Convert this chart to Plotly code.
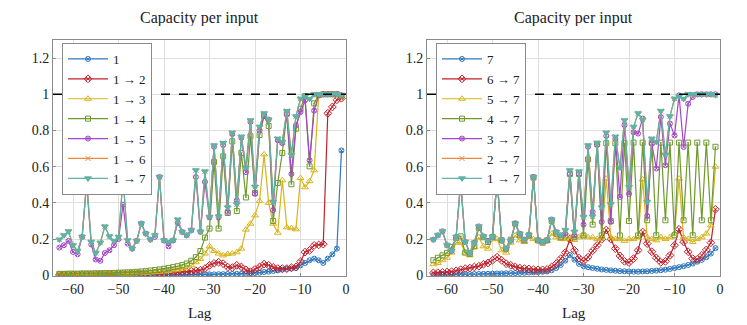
import plotly.graph_objects as go

lags = list(range(-63, 0))

# left panel: input 1 through k steps
cap_1 = [0.001, 0.001, 0.001, 0.001, 0.001, 0.001, 0.001, 0.001, 0.001, 0.002,
         0.002, 0.002, 0.002, 0.002, 0.002, 0.002, 0.003, 0.003, 0.003, 0.003,
         0.003, 0.003, 0.003, 0.004, 0.004, 0.004, 0.004, 0.004, 0.004, 0.004,
         0.004, 0.005, 0.005, 0.005, 0.005, 0.006, 0.006, 0.007, 0.007, 0.008,
         0.008, 0.009, 0.010, 0.012, 0.014, 0.018, 0.020, 0.024, 0.027, 0.031,
         0.036, 0.037, 0.040, 0.055, 0.068, 0.083, 0.092, 0.083, 0.068, 0.092,
         0.116, 0.147, 0.690]
cap_1_2 = [0.002, 0.002, 0.002, 0.002, 0.002, 0.003, 0.003, 0.003, 0.003, 0.004,
           0.004, 0.004, 0.005, 0.005, 0.006, 0.006, 0.007, 0.008, 0.008, 0.009,
           0.010, 0.011, 0.012, 0.013, 0.014, 0.015, 0.016, 0.018, 0.020, 0.022,
           0.025, 0.028, 0.037, 0.055, 0.066, 0.072, 0.064, 0.045, 0.042, 0.055,
           0.046, 0.030, 0.020, 0.033, 0.046, 0.062, 0.055, 0.044, 0.037, 0.037,
           0.037, 0.042, 0.046, 0.075, 0.128, 0.138, 0.165, 0.168, 0.172, 0.895,
           0.930, 0.970, 0.978]
cap_1_3 = [0.003, 0.003, 0.003, 0.004, 0.004, 0.004, 0.005, 0.005, 0.005, 0.006,
           0.006, 0.007, 0.007, 0.008, 0.008, 0.009, 0.010, 0.011, 0.012, 0.013,
           0.015, 0.017, 0.019, 0.021, 0.024, 0.027, 0.031, 0.036, 0.043, 0.055,
           0.072, 0.090, 0.120, 0.160, 0.134, 0.120, 0.110, 0.118, 0.120, 0.127,
           0.147, 0.252, 0.285, 0.331, 0.410, 0.668, 0.400, 0.285, 0.235, 0.525,
           0.265, 0.260, 0.254, 0.537, 0.486, 0.520, 0.580, 0.995, 1.000, 1.000,
           1.000, 1.000, 0.995]
cap_1_4 = [0.008, 0.008, 0.009, 0.009, 0.009, 0.010, 0.010, 0.010, 0.011, 0.011,
           0.012, 0.012, 0.013, 0.014, 0.015, 0.016, 0.017, 0.019, 0.021, 0.023,
           0.026, 0.029, 0.032, 0.036, 0.040, 0.045, 0.050, 0.056, 0.065, 0.080,
           0.100, 0.134, 0.208, 0.258, 0.626, 0.258, 0.657, 0.344, 0.740, 0.355,
           0.676, 0.430, 0.768, 0.455, 0.775, 0.880, 0.825, 0.300, 0.510, 0.676,
           0.893, 0.503, 0.810, 0.920, 0.990, 0.602, 0.950, 0.995, 1.000, 1.000,
           1.000, 1.000, 0.990]
cap_1_5 = [0.153, 0.166, 0.190, 0.129, 0.116, 0.212, 0.510, 0.170, 0.087, 0.080,
           0.123, 0.138, 0.166, 0.200, 0.390, 0.175, 0.147, 0.190, 0.286, 0.230,
           0.197, 0.212, 0.543, 0.193, 0.160, 0.193, 0.290, 0.239, 0.221, 0.249,
           0.543, 0.240, 0.516, 0.320, 0.710, 0.320, 0.720, 0.350, 0.780, 0.414,
           0.760, 0.570, 0.847, 0.450, 0.800, 0.884, 0.860, 0.360, 0.746, 0.730,
           0.890, 0.560, 0.829, 0.902, 0.967, 0.635, 0.910, 0.995, 1.000, 1.000,
           1.000, 1.000, 0.995]
cap_1_7 = [0.197, 0.221, 0.243, 0.166, 0.134, 0.212, 0.516, 0.184, 0.123, 0.180,
           0.270, 0.215, 0.190, 0.212, 0.534, 0.193, 0.147, 0.190, 0.286, 0.230,
           0.197, 0.221, 0.543, 0.193, 0.184, 0.193, 0.308, 0.239, 0.221, 0.249,
           0.580, 0.240, 0.574, 0.322, 0.718, 0.325, 0.731, 0.375, 0.788, 0.392,
           0.766, 0.595, 0.856, 0.488, 0.820, 0.895, 0.860, 0.405, 0.755, 0.737,
           0.908, 0.665, 0.878, 0.976, 0.989, 0.975, 1.000, 1.000, 1.000, 1.000,
           1.000, 1.000, 0.995]
# 1 -> 6 and 2 -> 7 lie exactly under 1 -> 7 in the picture
cap_1_6 = cap_1_7
cap_2_7 = cap_1_7

# right panel: k steps into output 7
cap_7 = [0.003, 0.003, 0.004, 0.004, 0.004, 0.005, 0.005, 0.006, 0.006, 0.007,
         0.007, 0.008, 0.008, 0.009, 0.010, 0.010, 0.011, 0.012, 0.012, 0.013,
         0.014, 0.015, 0.016, 0.017, 0.019, 0.021, 0.028, 0.040, 0.057, 0.081,
         0.112, 0.086, 0.063, 0.050, 0.045, 0.040, 0.036, 0.032, 0.030, 0.027,
         0.025, 0.023, 0.022, 0.021, 0.020, 0.020, 0.021, 0.022, 0.024, 0.026,
         0.028, 0.031, 0.035, 0.040, 0.045, 0.050, 0.057, 0.065, 0.075, 0.085,
         0.100, 0.120, 0.150]
cap_6_7 = [0.013, 0.014, 0.016, 0.018, 0.020, 0.025, 0.031, 0.037, 0.040, 0.046,
           0.050, 0.061, 0.068, 0.083, 0.100, 0.083, 0.064, 0.055, 0.046, 0.040,
           0.037, 0.035, 0.031, 0.030, 0.030, 0.032, 0.046, 0.064, 0.092, 0.125,
           0.199, 0.138, 0.095, 0.078, 0.100, 0.135, 0.165, 0.199, 0.250, 0.200,
           0.147, 0.107, 0.077, 0.070, 0.092, 0.138, 0.239, 0.175, 0.130, 0.096,
           0.072, 0.077, 0.110, 0.166, 0.254, 0.184, 0.130, 0.092, 0.088, 0.110,
           0.140, 0.180, 0.365]
cap_5_7 = [0.061, 0.068, 0.083, 0.097, 0.125, 0.180, 0.180, 0.125, 0.110, 0.155,
           0.210, 0.160, 0.147, 0.199, 0.200, 0.138, 0.125, 0.180, 0.220, 0.193,
           0.184, 0.212, 0.200, 0.190, 0.184, 0.190, 0.230, 0.210, 0.200, 0.200,
           0.210, 0.195, 0.210, 0.220, 0.210, 0.210, 0.200, 0.210, 0.534, 0.210,
           0.200, 0.200, 0.190, 0.200, 0.200, 0.210, 0.530, 0.210, 0.200, 0.193,
           0.210, 0.200, 0.210, 0.230, 0.534, 0.210, 0.200, 0.184, 0.200, 0.210,
           0.230, 0.276, 0.600]
cap_4_7 = [0.083, 0.097, 0.110, 0.124, 0.155, 0.205, 0.215, 0.125, 0.118, 0.160,
           0.262, 0.210, 0.184, 0.212, 0.534, 0.193, 0.147, 0.197, 0.285, 0.221,
           0.193, 0.221, 0.540, 0.193, 0.180, 0.193, 0.300, 0.230, 0.210, 0.220,
           0.560, 0.210, 0.560, 0.220, 0.640, 0.280, 0.727, 0.220, 0.730, 0.300,
           0.730, 0.220, 0.730, 0.300, 0.733, 0.220, 0.733, 0.304, 0.733, 0.221,
           0.733, 0.304, 0.733, 0.221, 0.733, 0.304, 0.733, 0.221, 0.733, 0.304,
           0.733, 0.304, 0.710]
cap_3_7 = [0.197, 0.221, 0.243, 0.166, 0.134, 0.212, 0.516, 0.184, 0.123, 0.180,
           0.270, 0.215, 0.190, 0.212, 0.534, 0.193, 0.147, 0.190, 0.286, 0.230,
           0.197, 0.221, 0.543, 0.193, 0.184, 0.193, 0.308, 0.239, 0.221, 0.230,
           0.560, 0.220, 0.560, 0.280, 0.710, 0.350, 0.720, 0.295, 0.770, 0.295,
           0.755, 0.433, 0.829, 0.450, 0.790, 0.783, 0.866, 0.328, 0.727, 0.590,
           0.875, 0.608, 0.838, 0.773, 0.994, 0.709, 0.948, 0.985, 1.000, 1.000,
           1.000, 1.000, 1.000]

left_names = ["1", "1 → 2", "1 → 3", "1 → 4", "1 → 5", "1 → 6", "1 → 7"]
right_names = ["7", "6 → 7", "5 → 7", "4 → 7", "3 → 7", "2 → 7", "1 → 7"]
left_series = [cap_1, cap_1_2, cap_1_3, cap_1_4, cap_1_5, cap_1_6, cap_1_7]
right_series = [cap_7, cap_6_7, cap_5_7, cap_4_7, cap_3_7, cap_2_7, cap_1_7]

colors = ["#2f78bd", "#c3202b", "#d8b41a", "#6f9a2b", "#a346c9", "#e8893a", "#5db3a6"]
symbols = ["circle-x-open", "diamond-x-open", "triangle-up-open", "square-open-dot",
           "circle-x-open", "x-thin-open", "triangle-down"]
sizes = [5, 6, 6, 5, 5, 5, 6]

FONT = "Liberation Serif"
INK = "#222"
W, H = 747, 325
# the page adds an 8px body margin, so layout positions are in figure pixels
OFF = 8


def px(x):
    return (x - OFF) / W


def py(y):
    return (H - (y - OFF)) / H


fig = go.Figure()

for names, series, xa, ya, leg in [
        (left_names, left_series, "x", "y", "legend"),
        (right_names, right_series, "x2", "y2", "legend2")]:
    for i in range(7):
        fig.add_trace(go.Scatter(
            x=lags, y=series[i], name=names[i], mode="lines+markers",
            xaxis=xa, yaxis=ya, legend=leg,
            line=dict(color=colors[i], width=1.2),
            marker=dict(symbol=symbols[i], size=sizes[i], color=colors[i],
                        line=dict(color=colors[i], width=1)),
        ))

axis_common = dict(
    showline=True, mirror=True, linecolor="#8a8a8a", linewidth=1,
    showgrid=True, gridcolor="#dedede", gridwidth=1,
    ticks="inside", ticklen=3, tickcolor="#8a8a8a",
    zeroline=False, automargin=False,
    tickfont=dict(family=FONT, size=14, color=INK),
)
xa_common = dict(axis_common, range=[-64.4, 0], tickvals=[-60, -50, -40, -30, -20, -10, 0])
ya_common = dict(axis_common, range=[-0.004, 1.3], tickvals=[0, 0.2, 0.4, 0.6, 0.8, 1, 1.2])

legend_common = dict(
    bgcolor="white", bordercolor="#8a8a8a", borderwidth=1,
    font=dict(family=FONT, size=13, color=INK),
    xanchor="left", yanchor="top", tracegroupgap=0, itemwidth=40,
)

fig.update_layout(
    width=W, height=H,
    margin=dict(l=0, r=0, t=0, b=0),
    paper_bgcolor="white", plot_bgcolor="white",
    font=dict(family=FONT, size=13, color=INK),
    xaxis=dict(xa_common, domain=[px(53), px(346)], anchor="y"),
    yaxis=dict(ya_common, domain=[py(276), py(40)], anchor="x"),
    xaxis2=dict(xa_common, domain=[px(427), px(720)], anchor="y2"),
    yaxis2=dict(ya_common, domain=[py(276), py(40)], anchor="x2"),
    legend=dict(legend_common, x=px(62), y=py(43)),
    legend2=dict(legend_common, x=px(436), y=py(43)),
    showlegend=True,
)

# dashed reference at full capacity, drawn over the markers as in the original
for xr, yr in [("x domain", "y"), ("x2 domain", "y2")]:
    fig.add_shape(type="line", xref=xr, yref=yr, x0=0, x1=1, y0=1, y1=1,
                  line=dict(color="black", width=1.4, dash="dash"), layer="above")

for xc in [199.5, 573.5]:
    fig.add_annotation(text="Capacity per input", x=px(xc), y=1, xref="paper", yref="paper",
                       showarrow=False, font=dict(family=FONT, size=16, color=INK),
                       xanchor="center", yanchor="top", height=16, valign="middle")
    fig.add_annotation(text="Lag", x=px(xc), y=py(313), xref="paper", yref="paper",
                       showarrow=False, font=dict(family=FONT, size=15, color=INK),
                       xanchor="center", yanchor="middle")

fig.write_html("out.html")
